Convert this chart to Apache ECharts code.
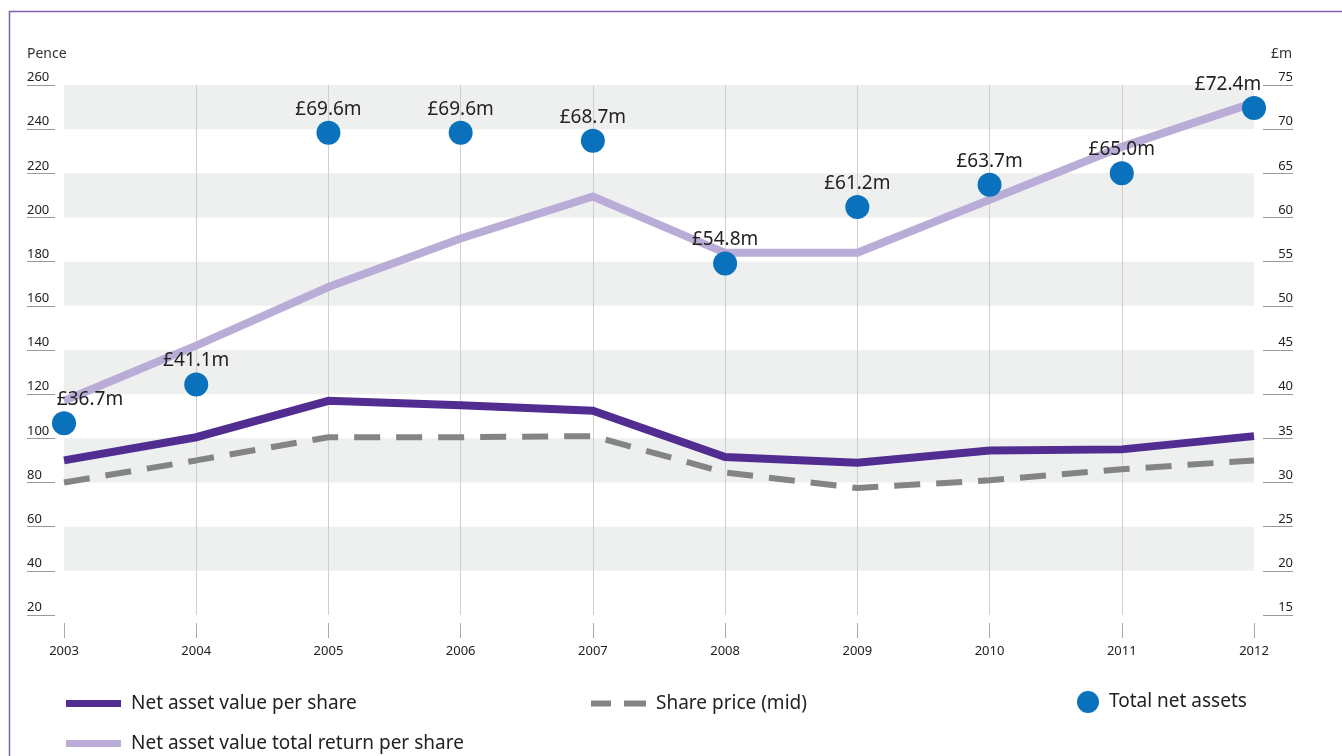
<!DOCTYPE html>
<html>
<head>
<meta charset="utf-8">
<script src="https://cdn.jsdelivr.net/npm/echarts@6/dist/echarts.min.js"></script>
<style>
html,body{margin:0;padding:0;background:#fff;}
#chart{width:1342px;height:756px;}
</style>
</head>
<body>
<div id="chart"></div>
<script>
const years = ['2003','2004','2005','2006','2007','2008','2009','2010','2011','2012'];
const navPerShare = [90, 100.5, 117, 115, 112.5, 91.5, 89, 94.5, 95, 101];
const sharePrice = [80, 90, 100.5, 100.5, 101, 84.5, 77.5, 81, 86, 90];
const navTotalReturn = [117, 142, 168.5, 190.5, 209.5, 184, 184, 208, 232, 252];
const totalNetAssets = [36.7, 41.1, 69.6, 69.6, 68.7, 54.8, 61.2, 63.7, 65.0, 72.4];
const penceAxis = {min: 20, max: 260, interval: 20};
const poundAxis = {min: 15, max: 75, interval: 5};
const seriesNames = ['Net asset value per share', 'Share price (mid)', 'Total net assets', 'Net asset value total return per share'];

const FONT = '"Noto Sans", "Open Sans", sans-serif';
const chart = echarts.init(document.getElementById('chart'), null, {renderer: 'canvas'});

const legendBase = {
  orient: 'horizontal',
  itemGap: 0,
  padding: 0,
  textStyle: {fontFamily: FONT, fontSize: 19, color: '#222', padding: [0, 0, 0, 5]},
  itemStyle: {borderWidth: 0, opacity: 1},
  selectedMode: false
};

const option = {
  backgroundColor: '#ffffff',
  animation: false,
  graphic: [
    {type: 'polyline', shape: {points: [[9.5, 756], [9.5, 11.5], [1342, 11.5]]},
     style: {stroke: '#7d61ad', lineWidth: 1.5, fill: null}, silent: true},
    {type: 'text', left: 27, top: 47, style: {text: 'Pence', font: '14px ' + FONT, fill: '#333'}},
    {type: 'text', right: 50, top: 47, style: {text: '£m', font: '14px ' + FONT, fill: '#333'}}
  ],
  grid: {left: 64, right: 88, top: 85, bottom: 141, containLabel: false},
  xAxis: {
    type: 'category',
    data: years,
    boundaryGap: false,
    offset: 8,
    axisLine: {show: false},
    axisTick: {show: true, length: 15, alignWithLabel: true, lineStyle: {color: '#aaa', width: 1}},
    axisLabel: {margin: 22, fontFamily: FONT, fontSize: 13, color: '#222'},
    splitLine: {show: true, interval: function (i) { return i > 0 && i < years.length - 1; },
                lineStyle: {color: '#cfcfcf', width: 1}}
  },
  yAxis: [
    {
      type: 'value', position: 'left', offset: 9,
      min: penceAxis.min, max: penceAxis.max, interval: penceAxis.interval,
      axisLine: {show: false},
      axisTick: {show: true, length: 28, lineStyle: {color: '#999', width: 1}},
      axisLabel: {margin: 28, align: 'left', verticalAlign: 'bottom', padding: [0, 0, 1, 0],
                  fontFamily: FONT, fontSize: 13, color: '#222'},
      splitLine: {show: false},
      splitArea: {show: true, areaStyle: {color: ['rgba(255,255,255,0)', '#eef0ef']}}
    },
    {
      type: 'value', position: 'right', offset: 9,
      min: poundAxis.min, max: poundAxis.max, interval: poundAxis.interval,
      axisLine: {show: false},
      axisTick: {show: true, length: 30, lineStyle: {color: '#999', width: 1}},
      axisLabel: {margin: 30, align: 'right', verticalAlign: 'bottom', padding: [0, 0, 1, 0],
                  fontFamily: FONT, fontSize: 13, color: '#222'},
      splitLine: {show: false},
      splitArea: {show: false}
    }
  ],
  legend: [
    Object.assign({}, legendBase, {left: 66, top: 694, itemWidth: 55, itemHeight: 7,
      data: [{name: seriesNames[0], icon: 'rect'}]}),
    Object.assign({}, legendBase, {left: 591, top: 694, itemWidth: 55, itemHeight: 6,
      data: [{name: seriesNames[1], icon: 'path://M0,0H20V6H0Z M33,0H55V6H33Z'}]}),
    Object.assign({}, legendBase, {left: 1077, top: 691, itemWidth: 22, itemHeight: 22,
      data: [{name: seriesNames[2], icon: 'circle'}]}),
    Object.assign({}, legendBase, {left: 66, top: 734, itemWidth: 55, itemHeight: 7,
      data: [{name: seriesNames[3], icon: 'rect'}]})
  ],
  series: [
    {
      name: seriesNames[3], type: 'line', data: navTotalReturn, yAxisIndex: 0,
      color: '#b9acd6', showSymbol: false, symbol: 'none',
      lineStyle: {color: '#b9acd6', width: 8, join: 'miter'}, z: 2
    },
    {
      name: seriesNames[1], type: 'line', data: sharePrice, yAxisIndex: 0,
      color: '#838486', showSymbol: false, symbol: 'none',
      lineStyle: {color: '#838486', width: 6, type: [26, 16]}, z: 3
    },
    {
      name: seriesNames[0], type: 'line', data: navPerShare, yAxisIndex: 0,
      color: '#512d91', showSymbol: false, symbol: 'none',
      lineStyle: {color: '#512d91', width: 8, join: 'miter'}, z: 4
    },
    {
      name: seriesNames[2], type: 'scatter', yAxisIndex: 1,
      data: totalNetAssets.map(function (v, i) {
        const item = {value: v};
        if (i === 0) item.label = {offset: [26, 0]};
        if (i === totalNetAssets.length - 1) item.label = {offset: [-26, 0]};
        return item;
      }),
      color: '#0a72bd', symbol: 'circle', symbolSize: 24,
      itemStyle: {color: '#0a72bd', opacity: 1},
      label: {show: true, position: 'top', distance: 2, fontFamily: FONT, fontSize: 19, color: '#222',
              formatter: function (p) { return '£' + Number(p.value).toFixed(1) + 'm'; }},
      z: 5
    }
  ]
};
chart.setOption(option);
</script>
</body>
</html>
